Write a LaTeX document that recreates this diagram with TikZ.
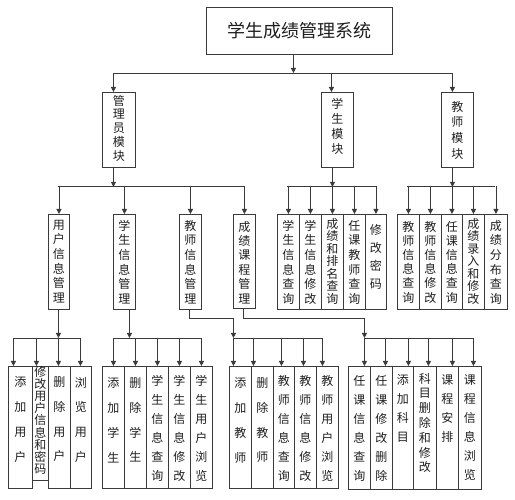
\documentclass[tikz,border=0pt]{standalone}
\usepackage{fontspec}
\newfontfamily\cjk{Noto Sans CJK SC}
\usetikzlibrary{arrows.meta}
\definecolor{lc}{HTML}{3A3A3A}
\definecolor{tc}{HTML}{1E1E1E}
\newcommand\vt[5]{\parbox[c][#2pt][t]{#1pt}{\centering\lineskiplimit=-20pt\fontsize{12}{#4}\selectfont\vspace*{\dimexpr#3pt-5.5pt\relax}#5\par}}
\tikzset{
  bx/.style={draw=lc, line width=0.9pt, inner sep=0pt, anchor=north west, font=\cjk, text=tc},
  arr/.style={draw=lc, line width=0.9pt, -{Triangle[length=5pt,width=5pt]}},
  ln/.style={draw=lc, line width=0.9pt}
}
\begin{document}
\begin{tikzpicture}[x=1pt,y=-1pt]
\useasboundingbox (0,0) rectangle (515,500);
% title
\node[bx, minimum width=186pt, minimum height=47pt, font=\cjk\fontsize{18}{20}\selectfont] (title) at (206,7) {学生成绩管理系统};
% modules
\node[bx] (m1) at (102,92) {\vt{33}{75}{8}{13.75}{管\\理\\员\\模\\块}};
\node[bx] (m2) at (321,92) {\vt{32}{75}{11.3}{15}{学\\生\\模\\块}};
\node[bx] (m3) at (441,92) {\vt{32}{75}{14}{15.8}{教\\师\\模\\块}};
% level 2
\node[bx] (a1) at (48,214) {\vt{21}{95}{11}{14.7}{用\\户\\信\\息\\管\\理}};
\node[bx] (a2) at (113,214) {\vt{22}{95}{11}{14.7}{学\\生\\信\\息\\管\\理}};
\node[bx] (a3) at (179,214) {\vt{22}{95}{11}{14.7}{教\\师\\信\\息\\管\\理}};
\node[bx] (a4) at (233,214) {\vt{22}{94}{12}{14.4}{成\\绩\\课\\程\\管\\理}};
\node[bx] (s1) at (277,214) {\vt{22}{95}{11}{14.7}{学\\生\\信\\息\\查\\询}};
\node[bx] (s2) at (299,214) {\vt{22}{95}{11}{14.7}{学\\生\\信\\息\\修\\改}};
\node[bx] (s3) at (321,214) {\vt{22}{95}{9}{12.5}{成\\绩\\和\\排\\名\\查\\询}};
\node[bx] (s4) at (343,214) {\vt{22}{95}{11}{14.7}{任\\课\\教\\师\\查\\询}};
\node[bx] (s5) at (365,214) {\vt{21}{95}{15}{18}{修\\改\\密\\码}};
\node[bx] (t1) at (397,214) {\vt{22}{95}{12}{14.2}{教\\师\\信\\息\\查\\询}};
\node[bx] (t2) at (419,214) {\vt{22}{95}{12}{14.2}{教\\师\\信\\息\\修\\改}};
\node[bx] (t3) at (441,214) {\vt{21}{95}{12}{14.2}{任\\课\\信\\息\\查\\询}};
\node[bx] (t4) at (462,214) {\vt{22}{95}{9}{12.5}{成\\绩\\录\\入\\和\\修\\改}};
\node[bx] (t5) at (484,214) {\vt{23}{95}{11}{14.7}{成\\绩\\分\\布\\查\\询}};
% level 3
\node[bx] (u1) at (8,366) {\vt{24}{122}{16}{24.7}{添\\加\\用\\户}};
\node[bx] (u2) at (32,366) {\vt{16}{114}{5}{12.2}{修\\改\\用\\户\\信\\息\\和\\密\\码}};
\node[bx] (u3) at (48,366) {\vt{22}{122}{16}{24.7}{删\\除\\用\\户}};
\node[bx] (u4) at (70,366) {\vt{21}{122}{16}{24.7}{浏\\览\\用\\户}};
\node[bx] (p1) at (102,366) {\vt{22}{122}{17}{24.7}{添\\加\\学\\生}};
\node[bx] (p2) at (124,366) {\vt{22}{122}{17}{24.7}{删\\除\\学\\生}};
\node[bx] (p3) at (146,366) {\vt{22}{122}{14}{19}{学\\生\\信\\息\\查\\询}};
\node[bx] (p4) at (168,366) {\vt{22}{122}{14}{19}{学\\生\\信\\息\\修\\改}};
\node[bx] (p5) at (190,366) {\vt{22}{122}{14}{19}{学\\生\\用\\户\\浏\\览}};
\node[bx] (e1) at (229,366) {\vt{22}{122}{17}{24.7}{添\\加\\教\\师}};
\node[bx] (e2) at (251,366) {\vt{22}{122}{17}{24.7}{删\\除\\教\\师}};
\node[bx] (e3) at (273,366) {\vt{21}{122}{14}{19}{教\\师\\信\\息\\查\\询}};
\node[bx] (e4) at (294,366) {\vt{22}{122}{14}{19}{教\\师\\信\\息\\修\\改}};
\node[bx] (e5) at (316,366) {\vt{22}{122}{14}{19}{教\\师\\用\\户\\浏\\览}};
\node[bx] (c1) at (348,366) {\vt{22}{123}{14}{19}{任\\课\\信\\息\\查\\询}};
\node[bx] (c2) at (370,366) {\vt{22}{123}{14}{19}{任\\课\\修\\改\\删\\除}};
\node[bx] (c3) at (392,366) {\vt{21}{123}{14}{19}{添\\加\\科\\目}};
\node[bx] (c4) at (413,366) {\vt{23}{123}{12}{14.8}{科\\目\\删\\除\\和\\修\\改}};
\node[bx] (c5) at (436,366) {\vt{22}{123}{14}{19}{课\\程\\安\\排}};
\node[bx] (c6) at (458,366) {\vt{23}{123}{14}{19}{课\\程\\信\\息\\浏\\览}};
% ---- connectors level 1
\draw[arr] ([xshift=-6pt]title.south) -- ([xshift=-6pt,yshift=19pt]m2.north -| title.south);
\draw[ln] ([xshift=-5.5pt,yshift=19pt]m1.north) -- ([xshift=-5pt,yshift=19pt]m3.north);
\draw[arr] ([xshift=-5.5pt,yshift=19pt]m1.north) -- ([xshift=-5.5pt]m1.north);
\draw[arr] ([xshift=-6pt,yshift=19pt]m2.north) -- ([xshift=-6pt]m2.north);
\draw[arr] ([xshift=-5pt,yshift=19pt]m3.north) -- ([xshift=-5pt]m3.north);
% ---- level 2: admin
\draw[arr] ([xshift=-5.5pt]m1.south) -- ([xshift=-5.5pt,yshift=-19pt]m1.south);
\draw[ln] ([xshift=-0.5pt,yshift=28pt]a1.north) -- ([yshift=28pt]a4.north);
\foreach \n in {a1,a2,a3,a4}{\draw[arr] ([yshift=28pt]\n.north) -- (\n.north);}
% student module
\draw[arr] ([xshift=-5pt]m2.south) -- ([xshift=-5pt,yshift=-19pt]m2.south);
\draw[ln] ([xshift=-1pt,yshift=28pt]s1.north) -- ([xshift=0.5pt,yshift=28pt]s5.north);
\foreach \n in {s1,s2,s3,s4,s5}{\draw[arr] ([yshift=28pt]\n.north) -- (\n.north);}
% teacher module
\draw[arr] ([xshift=-5pt]m3.south) -- ([xshift=-5pt,yshift=-19pt]m3.south);
\draw[ln] ([xshift=-1pt,yshift=28pt]t1.north) -- ([xshift=-0.5pt,yshift=28pt]t5.north);
\foreach \n in {t1,t2,t3,t4,t5}{\draw[arr] ([yshift=28pt]\n.north) -- (\n.north);}
% ---- level 3: users
\draw[arr] ([xshift=-0.5pt]a1.south) -- ([xshift=-0.5pt,yshift=28pt]u3.north -| a1.south);
\draw[ln] ([xshift=-7pt,yshift=28pt]u1.north) -- ([xshift=-0.5pt,yshift=28pt]u4.north);
\draw[arr] ([xshift=-7pt,yshift=28pt]u1.north) -- ([xshift=-7pt]u1.north);
\draw[arr] ([xshift=-4pt,yshift=28pt]u2.north) -- ([xshift=-4pt]u2.north);
\draw[arr] ([xshift=-1pt,yshift=28pt]u3.north) -- ([xshift=-1pt]u3.north);
\draw[arr] ([xshift=-0.5pt,yshift=28pt]u4.north) -- ([xshift=-0.5pt]u4.north);
% students
\draw[arr] ([xshift=5pt]a2.south) -- ([xshift=5pt,yshift=28pt]p1.north -| a2.south);
\draw[ln] ([yshift=28pt]p1.north) -- ([yshift=28pt]p5.north);
\foreach \n in {p1,p2,p3,p4,p5}{\draw[arr] ([yshift=28pt]\n.north) -- (\n.north);}
% teachers
\draw[arr] ([xshift=-1pt]a3.south) |- ([xshift=-7pt,yshift=48pt]e1.north) -- ([xshift=-7pt,yshift=28pt]e1.north);
\draw[ln] ([xshift=-7pt,yshift=28pt]e1.north) -- ([xshift=-5pt,yshift=28pt]e5.north);
\draw[arr] ([xshift=-7pt,yshift=28pt]e1.north) -- ([xshift=-7pt]e1.north);
\draw[arr] ([xshift=-9pt,yshift=28pt]e2.north) -- ([xshift=-9pt]e2.north);
\draw[arr] ([xshift=-2.5pt,yshift=28pt]e3.north) -- ([xshift=-2.5pt]e3.north);
\draw[arr] ([xshift=-2pt,yshift=28pt]e4.north) -- ([xshift=-2pt]e4.north);
\draw[arr] ([xshift=-5pt,yshift=28pt]e5.north) -- ([xshift=-5pt]e5.north);
% courses
\draw[arr] ([xshift=-1pt]a4.south) |- ([xshift=5pt,yshift=48pt]c1.north) -- ([xshift=5pt,yshift=28pt]c1.north);
\draw[ln] ([xshift=5pt,yshift=28pt]c1.north) -- ([xshift=3.5pt,yshift=28pt]c6.north);
\draw[arr] ([xshift=5pt,yshift=28pt]c1.north) -- ([xshift=5pt]c1.north);
\draw[arr] ([xshift=4pt,yshift=28pt]c2.north) -- ([xshift=4pt]c2.north);
\draw[arr] ([xshift=5.5pt,yshift=28pt]c3.north) -- ([xshift=5.5pt]c3.north);
\draw[arr] ([xshift=3.5pt,yshift=28pt]c4.north) -- ([xshift=3.5pt]c4.north);
\draw[arr] ([xshift=5pt,yshift=28pt]c5.north) -- ([xshift=5pt]c5.north);
\draw[arr] ([xshift=3.5pt,yshift=28pt]c6.north) -- ([xshift=3.5pt]c6.north);
\end{tikzpicture}
\end{document}
